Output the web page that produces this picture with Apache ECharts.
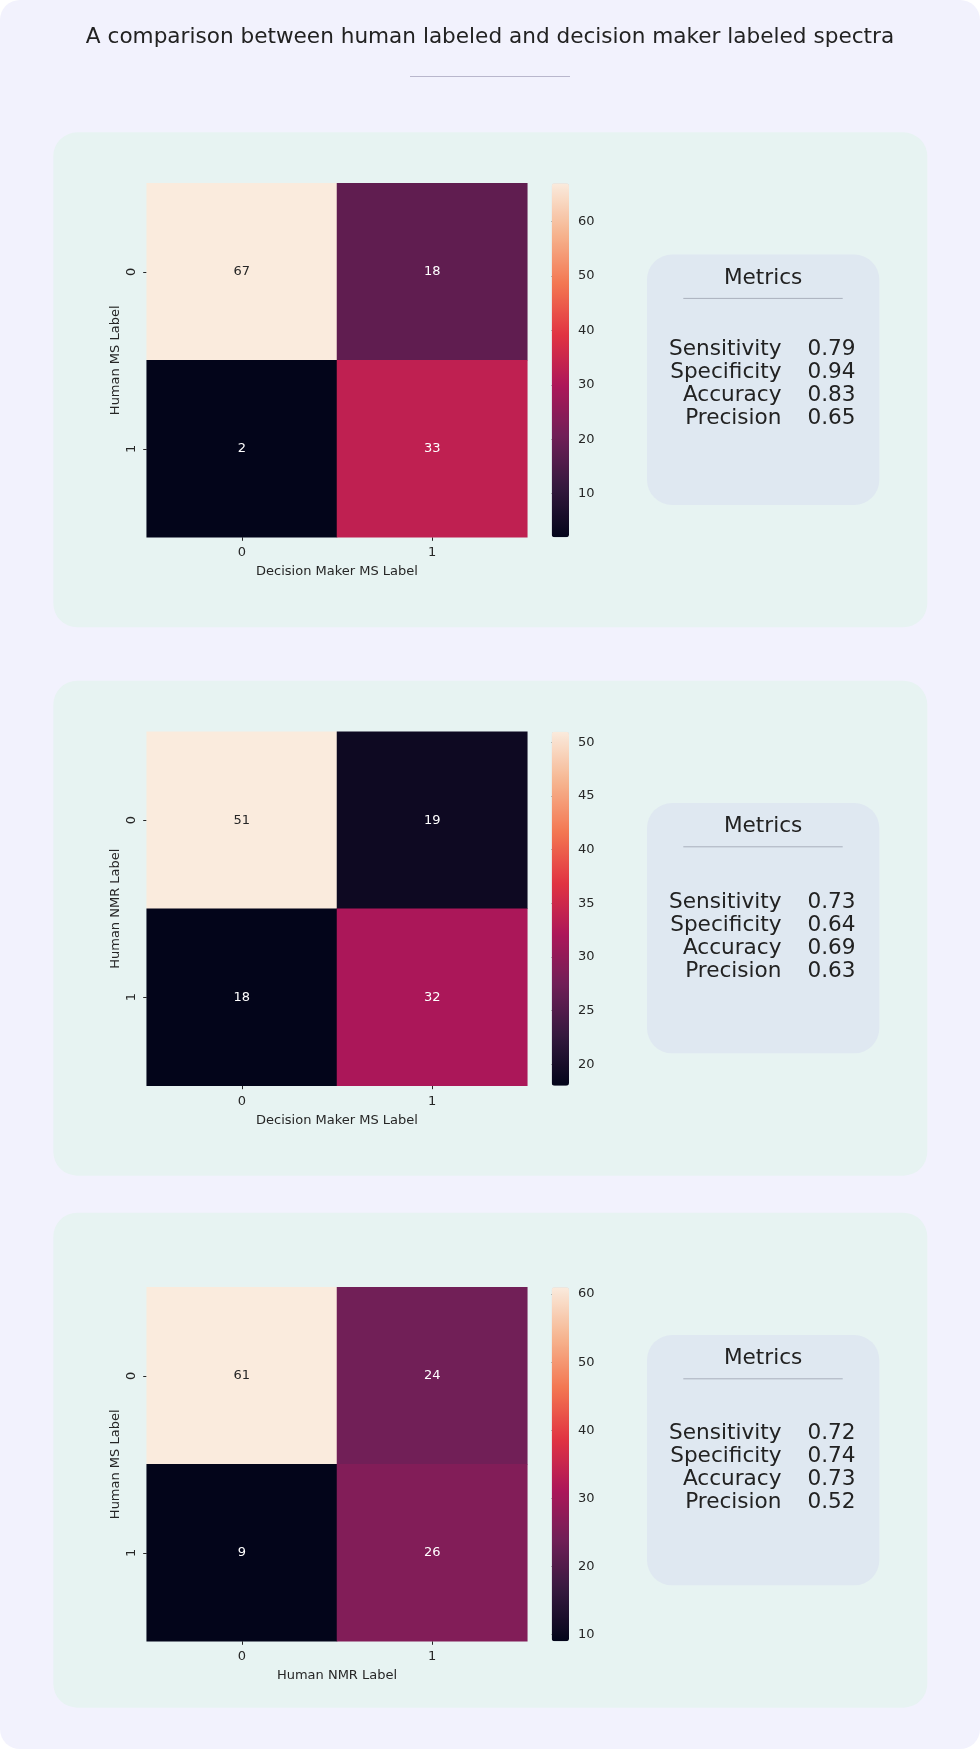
<!DOCTYPE html>
<html><head><meta charset="utf-8">
<script src="https://cdn.jsdelivr.net/npm/echarts@6/dist/echarts.min.js"></script>
<style>html,body{margin:0;padding:0;background:#ffffff}#c{width:980px;height:1749px}</style>
</head><body><div id="c"></div>
<script>
// ---------- data ----------
const xCategories = ['0', '1'];
const yCategories = ['0', '1'];
const matrixA = [[67, 18], [2, 33]];
const matrixB = [[51, 19], [18, 32]];
const matrixC = [[61, 24], [9, 26]];
const xAxisNames = ['Decision Maker MS Label', 'Decision Maker MS Label', 'Human NMR Label'];
const yAxisNames = ['Human MS Label', 'Human NMR Label', 'Human MS Label'];
const metricNames = ['Sensitivity', 'Specificity', 'Accuracy', 'Precision'];
const metricsA = ['0.79', '0.94', '0.83', '0.65'];
const metricsB = ['0.73', '0.64', '0.69', '0.63'];
const metricsC = ['0.72', '0.74', '0.73', '0.52'];
const colorbarTicksA = [10, 20, 30, 40, 50, 60];
const colorbarTicksB = [20, 25, 30, 35, 40, 45, 50];
const colorbarTicksC = [10, 20, 30, 40, 50, 60];
const titleText = 'A comparison between human labeled and decision maker labeled spectra';
const metricsHeading = 'Metrics';

// ---------- styles / layout ----------
const rocket = ['#03051a', '#35193e', '#701f57', '#ad1759', '#e13342', '#f37651', '#f6b48f', '#faebdd'];
const FONT = 'DejaVu Sans';
const TXT = '#262626';
const matrices = [matrixA, matrixB, matrixC];
const metricValues = [metricsA, metricsB, metricsC];
const colorbarTicks = [colorbarTicksA, colorbarTicksB, colorbarTicksC];
const layout = [
  { panelTop: 132.3, hmTop: 183.3, rowOffset: 94.7 },
  { panelTop: 680.7, hmTop: 731.7, rowOffset: 99.7 },
  { panelTop: 1212.7, hmTop: 1287.3, rowOffset: 98.7 }
];
const PANEL_LEFT = 53.3, PANEL_W = 874, PANEL_H = 495;
const HM_LEFT = 146.7, HM_W = 380.6, HM_H = 354;
const CB_LEFT = 551.7, CB_W = 17.3;
const BOX_LEFT = 647, BOX_W = 232.3, BOX_H = 250.3, BOX_OFF = 122.3;
const ROW_STEP = 22.9;

const grids = [], xAxes = [], yAxes = [], series = [], visualMaps = [], graphics = [];

function txt(x, y, text, size, align, extra) {
  return Object.assign({
    type: 'text', x: x, y: y, z: 5,
    style: {
      text: text, fontSize: size, fontFamily: FONT, fill: '#222222',
      align: align, textAlign: align, verticalAlign: 'middle', textVerticalAlign: 'middle'
    }
  }, extra || {});
}

// page card + title
graphics.push({ type: 'rect', z: -10, shape: { x: 0, y: 0, width: 980, height: 1749, r: 20 }, style: { fill: '#f2f2fd' } });
graphics.push(txt(490, 37.5, titleText, 21.6, 'center'));
graphics.push({ type: 'line', z: 5, shape: { x1: 410, y1: 76.5, x2: 570, y2: 76.5 }, style: { stroke: '#b9b7cc', lineWidth: 1 } });

matrices.forEach(function (m, i) {
  const L = layout[i];
  let flat = [];
  m.forEach(function (r) { flat = flat.concat(r); });
  const vmin = Math.min.apply(null, flat), vmax = Math.max.apply(null, flat);

  // panel background
  graphics.push({ type: 'rect', z: -9, shape: { x: PANEL_LEFT, y: L.panelTop, width: PANEL_W, height: PANEL_H, r: 24 }, style: { fill: '#e7f3f2' } });
  // metrics box
  const bt = L.panelTop + BOX_OFF;
  graphics.push({ type: 'rect', z: -8, shape: { x: BOX_LEFT, y: bt, width: BOX_W, height: BOX_H, r: 25 }, style: { fill: '#dfe8f1' } });
  graphics.push(txt(BOX_LEFT + BOX_W / 2, bt + 23.8, metricsHeading, 21.6, 'center'));
  graphics.push({ type: 'line', z: 5, shape: { x1: 683.3, y1: bt + 43.8, x2: 842.7, y2: bt + 43.8 }, style: { stroke: '#a9b0bc', lineWidth: 1 } });
  metricNames.forEach(function (name, k) {
    const y = bt + L.rowOffset + k * ROW_STEP;
    graphics.push(txt(781.5, y, name, 21.6, 'right'));
    graphics.push(txt(807.5, y, metricValues[i][k], 21.6, 'left'));
  });

  // heatmap grid
  grids.push({ left: HM_LEFT, top: L.hmTop, width: HM_W, height: HM_H, containLabel: false });
  xAxes.push({
    gridIndex: i, type: 'category', data: xCategories, position: 'bottom',
    axisLine: { show: false },
    axisTick: { show: true, alignWithLabel: true, length: 3.5, lineStyle: { color: TXT, width: 1 } },
    axisLabel: { margin: 9, fontSize: 13, fontFamily: FONT, color: TXT },
    splitLine: { show: false }, splitArea: { show: false },
    name: xAxisNames[i], nameLocation: 'middle', nameGap: 28,
    nameTextStyle: { fontSize: 13, fontFamily: FONT, color: TXT }
  });
  yAxes.push({
    gridIndex: i, type: 'category', data: yCategories, inverse: true,
    axisLine: { show: false },
    axisTick: { show: true, alignWithLabel: true, length: 3.5, lineStyle: { color: TXT, width: 1 } },
    axisLabel: { rotate: 90, margin: 9, fontSize: 13, fontFamily: FONT, color: TXT },
    splitLine: { show: false }, splitArea: { show: false },
    name: yAxisNames[i], nameLocation: 'middle', nameGap: 25, nameRotate: 90,
    nameTextStyle: { fontSize: 13, fontFamily: FONT, color: TXT }
  });
  const data = [];
  m.forEach(function (row, yi) {
    row.forEach(function (v, xi) {
      const light = (v - vmin) / (vmax - vmin) > 0.6;
      data.push({ value: [xi, yi, v], label: { color: light ? TXT : '#ffffff' } });
    });
  });
  series.push({
    type: 'heatmap', xAxisIndex: i, yAxisIndex: i, data: data,
    label: { show: true, fontSize: 13, fontFamily: FONT, formatter: function (p) { return p.value[2]; } },
    itemStyle: { borderWidth: 0 },
    emphasis: { disabled: true }
  });
  visualMaps.push({
    type: 'continuous', seriesIndex: i, dimension: 2, min: vmin, max: vmax,
    left: CB_LEFT, top: L.hmTop, itemWidth: CB_W, itemHeight: HM_H,
    orient: 'vertical', calculable: false, hoverLink: false, padding: 0, text: null,
    inRange: { color: rocket }, z: 3
  });
});

// colorbar axes (grids 3..5)
matrices.forEach(function (m, i) {
  const L = layout[i];
  let flat = [];
  m.forEach(function (r) { flat = flat.concat(r); });
  const vmin = Math.min.apply(null, flat), vmax = Math.max.apply(null, flat);
  grids.push({ left: CB_LEFT, top: L.hmTop, width: CB_W, height: HM_H, containLabel: false });
  xAxes.push({ gridIndex: 3 + i, type: 'value', show: false, min: 0, max: 1 });
  yAxes.push({
    gridIndex: 3 + i, type: 'value', position: 'right', min: vmin, max: vmax,
    axisLine: { show: false },
    axisTick: { show: true, length: 4, customValues: colorbarTicks[i], lineStyle: { color: TXT, width: 1 } },
    axisLabel: { customValues: colorbarTicks[i], margin: 9, fontSize: 13, fontFamily: FONT, color: TXT },
    splitLine: { show: false }
  });
});

const chart = echarts.init(document.getElementById('c'), null, { renderer: 'canvas', width: 980, height: 1749 });
chart.setOption({
  backgroundColor: '#ffffff',
  animation: false,
  grid: grids, xAxis: xAxes, yAxis: yAxes,
  visualMap: visualMaps,
  series: series,
  graphic: { elements: graphics }
});
</script></body></html>
